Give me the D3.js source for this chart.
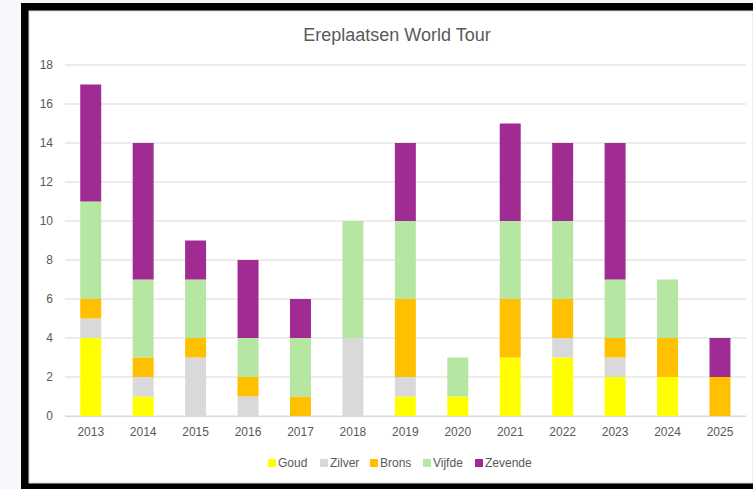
<!DOCTYPE html>
<html>
<head>
<meta charset="utf-8">
<script src="https://cdn.jsdelivr.net/npm/d3@7"></script>
<style>
  body { margin: 0; background: #f8f7fc; }
  svg { display: block; }
  text { font-family: "Liberation Sans Narrow", "Liberation Sans", sans-serif; fill: #595959; }
</style>
</head>
<body>
<svg id="chart" width="753" height="489"></svg>
<script>
var years = ['2013', '2014', '2015', '2016', '2017', '2018', '2019', '2020', '2021', '2022', '2023', '2024', '2025'];
var seriesNames = ['Goud', 'Zilver', 'Brons', 'Vijfde', 'Zevende'];
var goud = [4, 1, 0, 0, 0, 0, 1, 1, 3, 3, 2, 2, 0];
var zilver = [1, 1, 3, 1, 0, 4, 1, 0, 0, 1, 1, 0, 0];
var brons = [1, 1, 1, 1, 1, 0, 4, 0, 3, 2, 1, 2, 2];
var vijfde = [5, 4, 3, 2, 3, 6, 4, 2, 4, 4, 3, 3, 0];
var zevende = [6, 7, 2, 4, 2, 0, 4, 0, 5, 4, 7, 0, 2];
var yTicks = [0, 2, 4, 6, 8, 10, 12, 14, 16, 18];
var colors = ['#ffff00', '#d9d9d9', '#ffc000', '#b5e6a2', '#a02b93'];

var svg = d3.select('#chart');

// frame: black border, white chart area
svg.append('rect').attr('x', 21).attr('y', 3).attr('width', 732).attr('height', 486).attr('fill', '#000');
svg.append('rect').attr('x', 29).attr('y', 11).attr('width', 724).attr('height', 472)
  .attr('fill', '#fff').attr('stroke', '#d9d9d9').attr('stroke-width', 1);

var table = years.map(function (y, i) {
  return { year: y, Goud: goud[i], Zilver: zilver[i], Brons: brons[i], Vijfde: vijfde[i], Zevende: zevende[i] };
});
var stacked = d3.stack().keys(seriesNames)(table);

var x = d3.scaleBand().domain(years).range([64.5, 746.2]).paddingInner(0.6).paddingOuter(0.3);
var y = d3.scaleLinear().domain([0, 18]).range([416, 65]);

// gridlines
svg.append('g').selectAll('line').data(yTicks).enter().append('line')
  .attr('x1', 65).attr('x2', 746)
  .attr('y1', function (d) { return y(d); })
  .attr('y2', function (d) { return y(d); })
  .attr('stroke', '#d9d9d9').attr('stroke-width', 1);

// y tick labels
svg.append('g').selectAll('text').data(yTicks).enter().append('text')
  .attr('x', 53).attr('y', function (d) { return y(d); }).attr('dy', '0.35em')
  .attr('text-anchor', 'end').style('font-size', '12px')
  .text(function (d) { return d; });

// stacked bars
svg.append('g').selectAll('g').data(stacked).enter().append('g')
  .attr('fill', function (d, i) { return colors[i]; })
  .selectAll('rect').data(function (d) { return d; }).enter().append('rect')
  .attr('x', function (d) { return x(d.data.year); })
  .attr('width', x.bandwidth())
  .attr('y', function (d) { return y(d[1]); })
  .attr('height', function (d) { return y(d[0]) - y(d[1]); });

// x axis
var xAxis = d3.axisBottom(x).tickSize(0).tickPadding(11);
var gx = svg.append('g').attr('transform', 'translate(0,416)').call(xAxis);
gx.select('.domain').remove();
gx.selectAll('text').style('font-size', '12px').attr('fill', '#595959');
svg.append('line').attr('x1', 65).attr('x2', 746).attr('y1', 416.5).attr('y2', 416.5)
  .attr('stroke', '#d9d9d9').attr('stroke-width', 1);

// title
svg.append('text').attr('x', 397).attr('y', 41).attr('text-anchor', 'middle')
  .style('font-size', '18px').text('Ereplaatsen World Tour');

// legend
var legendX = [268, 320, 370, 423, 475];
var legend = svg.append('g').selectAll('g').data(seriesNames).enter().append('g')
  .attr('transform', function (d, i) { return 'translate(' + legendX[i] + ',463)'; });
legend.append('rect').attr('x', 0).attr('y', -4).attr('width', 8).attr('height', 8)
  .attr('fill', function (d, i) { return colors[i]; });
legend.append('text').attr('x', 10).attr('dy', '0.35em').style('font-size', '12px')
  .text(function (d) { return d; });
</script>
</body>
</html>
